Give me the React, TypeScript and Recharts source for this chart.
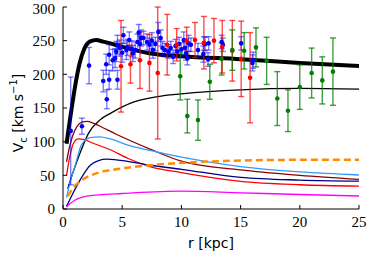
import React from "react";
import {
  ComposedChart,
  Line,
  Scatter,
  ErrorBar,
  XAxis,
  YAxis,
} from "recharts";

// r [kpc], V_c [km/s] pairs
const totalCurve = [
  [0.3, 97], [0.5, 122], [0.7, 146], [1.0, 180], [1.4, 216], [1.8, 238],
  [2.3, 249], [2.8, 251], [3.4, 248.5], [4.4, 244], [5.4, 239], [7.4, 231],
  [10, 227], [15, 222.5], [20, 217], [25, 212.5],
];
const haloCurve = [
  [0.4, 30], [0.7, 47], [1.0, 62], [1.44, 83], [2.14, 112], [3.1, 132],
  [4, 142], [6, 159], [8, 167], [10, 171], [15, 177], [20, 179], [25, 178],
];
const maroonCurve = [
  [0.3, 70], [0.5, 88], [0.8, 108], [1.2, 123], [1.6, 129], [2.0, 130],
  [2.5, 128], [3.0, 124], [4.5, 111], [7.35, 89], [10, 71], [15, 58],
  [20, 50], [25, 44],
];
const redCurve = [
  [0.3, 50], [0.6, 80], [0.9, 98], [1.3, 104], [1.8, 103], [2.5, 98],
  [4.0, 88], [5.5, 75], [7.35, 63], [10, 54], [15, 41], [20, 36], [25, 34],
];
const lightBlueCurve = [
  [0.3, 17], [0.6, 40], [1.0, 63], [1.58, 96], [2.3, 106], [3.1, 107],
  [4, 104], [5.5, 95], [7.35, 87], [10, 77], [15, 63], [20, 55], [25, 50.5],
];
const navyCurve = [
  [0.3, 4], [0.8, 22], [1.44, 43], [2.3, 65], [3, 72], [3.7, 74], [4.5, 73],
  [7.35, 65], [10, 59], [15, 47], [20, 43], [25, 41.5],
];
const orangeCurve = [
  [0.4, 19], [0.8, 30], [1.44, 41], [2.1, 48], [3, 54], [4.5, 59],
  [7.35, 65], [9.6, 68], [15, 72], [20, 73], [25, 73],
];
const magentaCurve = [
  [0.3, 3], [0.6, 8], [1.0, 13], [2, 19], [3, 21], [5, 23], [10, 26.5],
  [15, 24], [20, 21.5], [25, 19.3],
];

// r, V_c, error
const bluePoints = [
  [0.65, 116, 80], [1.6, 123, 12], [2.2, 213, 27], [3.4, 190, 16],
  [3.7, 163, 14], [3.65, 215, 15], [3.9, 192, 14], [3.9, 229, 15],
  [4.2, 221, 16], [4.4, 224, 14], [4.6, 192, 14], [4.5, 234, 15],
  [4.6, 244, 14], [4.8, 239, 12], [5.0, 232, 14], [5.1, 258, 12],
  [5.35, 236, 14], [5.45, 240, 12], [5.6, 251, 12], [5.8, 238, 12],
  [5.9, 231, 12], [6.1, 236, 12], [6.3, 248, 12], [6.4, 262, 12],
  [6.5, 245, 12], [6.6, 254, 12], [6.8, 254, 10], [7.1, 248, 12],
  [7.3, 244, 10], [7.5, 250, 12], [7.6, 236, 12], [7.8, 245, 10],
  [8.05, 263, 14], [8.25, 254, 12], [8.4, 239, 10], [8.6, 236, 10],
  [8.9, 234, 10], [9.1, 239, 10], [9.3, 226, 10], [9.5, 242, 10],
  [9.65, 234, 10], [9.8, 245, 10], [10.0, 237, 10], [10.2, 251, 12],
  [10.3, 239, 10], [10.4, 231, 10], [10.5, 224, 10], [10.6, 246, 12],
  [10.8, 244, 10], [11.4, 236, 10], [11.85, 230, 12], [11.9, 246, 10],
  [12.0, 245, 10], [12.25, 222, 10], [12.3, 246, 10], [13.4, 248, 10],
  [13.5, 244, 10], [15.05, 246, 10], [16.0, 217, 12], [16.05, 221, 12],
];
const redPoints = [
  [4.9, 212, 68], [5.7, 215, 28], [6.5, 221, 42], [7.3, 217, 42],
  [8.0, 202, 98], [8.8, 244, 45], [9.6, 244, 24], [10.45, 250, 20],
  [11.15, 251, 26], [11.9, 247, 39], [12.75, 250, 33], [13.45, 241, 39],
  [14.3, 235, 45], [15.05, 223, 56], [15.8, 195, 67],
];
const greenPoints = [
  [9.9, 197, 35], [10.5, 138, 25], [11.4, 132, 30], [12.4, 189, 26],
  [13.4, 223, 24], [14.3, 236, 30], [15.3, 235, 27], [16.3, 240, 29],
  [17.2, 220, 35], [18.1, 164, 40], [19.0, 146, 31], [20.0, 181, 33],
  [21.0, 202, 37], [21.9, 191, 35], [22.8, 204, 50],
];

const xTicks = [0, 5, 10, 15, 20, 25];
const yTicks = [0, 50, 100, 150, 200, 250, 300];

const toLine = (arr: number[][]) => arr.map(([r, v]) => ({ r, v }));
const toPts = (arr: number[][]) => arr.map(([r, v, e]) => ({ r, v, e }));

const dot = (color: string) => (p: any) =>
  <circle cx={p.cx} cy={p.cy} r={2.3} fill={color} />;

const tickStyle = { fontFamily: "Liberation Serif", fontSize: 15, fill: "#000" };

const xTick = (p: any) => (
  <text x={p.x} y={p.y} dy="0.71em" textAnchor="middle" style={tickStyle}>
    {String(p.payload.value)}
  </text>
);
const yTick = (p: any) => (
  <text x={p.x} y={p.y} dy="0.355em" textAnchor="end" style={tickStyle}>
    {String(p.payload.value)}
  </text>
);
const noTick = () => <g />;

export default function App() {
  const curve = (data: number[][], color: string, width: number, dash?: string) => (
    <Line
      data={toLine(data)}
      dataKey="v"
      type="monotone"
      stroke={color}
      strokeWidth={width}
      strokeDasharray={dash}
      dot={false}
      activeDot={false}
      isAnimationActive={false}
    />
  );

  return (
    <div style={{ position: "absolute", left: 0, top: 0, width: 374, height: 262, background: "#fff" }}>
      <ComposedChart
        width={374}
        height={262}
        margin={{ top: 7, right: 15, left: 0, bottom: 0 }}
      >
        <XAxis
          xAxisId="b"
          dataKey="r"
          type="number"
          domain={[0, 25]}
          ticks={xTicks}
          allowDataOverflow
          height={53}
          stroke="#000"
          tickSize={-4}
          tickMargin={11}
          tick={xTick}
        />
        <XAxis
          xAxisId="t"
          orientation="top"
          dataKey="r"
          type="number"
          domain={[0, 25]}
          ticks={xTicks}
          height={0}
          stroke="#000"
          tickSize={-4}
          tick={noTick}
        />
        <YAxis
          yAxisId="l"
          dataKey="v"
          type="number"
          domain={[0, 300]}
          ticks={yTicks}
          allowDataOverflow
          width={63}
          stroke="#000"
          tickSize={-4}
          tickMargin={12}
          tick={yTick}
        />
        <YAxis
          yAxisId="r"
          orientation="right"
          dataKey="v"
          type="number"
          domain={[0, 300]}
          ticks={yTicks}
          width={0}
          stroke="#000"
          tickSize={-4}
          tick={noTick}
        />
        {React.Children.map(
          [
            curve(totalCurve, "#000", 4),
            curve(haloCurve, "#000", 1.3),
            curve(maroonCurve, "#8b0000", 1.3),
            curve(redCurve, "#ff0000", 1.3),
            curve(lightBlueCurve, "#3399ff", 1.3),
            curve(navyCurve, "#00008b", 1.3),
            curve(orangeCurve, "#ff8c00", 2.5, "7 4"),
            curve(magentaCurve, "#ff00ff", 1.3),
          ],
          (el) => React.cloneElement(el, { xAxisId: "b", yAxisId: "l" })
        )}
        <Scatter data={toPts(bluePoints)} xAxisId="b" yAxisId="l" shape={dot("#0000ff")} isAnimationActive={false}>
          <ErrorBar dataKey="e" direction="y" width={3} stroke="#0000ff" strokeOpacity={0.5} strokeWidth={1.4} isAnimationActive={false} />
        </Scatter>
        <Scatter data={toPts(redPoints)} xAxisId="b" yAxisId="l" shape={dot("#ff0000")} isAnimationActive={false}>
          <ErrorBar dataKey="e" direction="y" width={3} stroke="#ff0000" strokeOpacity={0.7} strokeWidth={1.4} isAnimationActive={false} />
        </Scatter>
        <Scatter data={toPts(greenPoints)} xAxisId="b" yAxisId="l" shape={dot("#008000")} isAnimationActive={false}>
          <ErrorBar dataKey="e" direction="y" width={3} stroke="#008000" strokeOpacity={0.75} strokeWidth={1.4} isAnimationActive={false} />
        </Scatter>
      </ComposedChart>
      <svg width={374} height={262} style={{ position: "absolute", left: 0, top: 0, pointerEvents: "none" }}>
        <text x={211} y={248} textAnchor="middle" fontFamily="DejaVu Sans" fontSize={14}>
          r [kpc]
        </text>
        <text transform="translate(23,113) rotate(-90)" textAnchor="middle" fontFamily="DejaVu Sans" fontSize={14}>
          V<tspan fontSize={10} dy={4}>c</tspan>
          <tspan dy={-4}> [km s</tspan>
          <tspan fontSize={10} dy={-6}>−1</tspan>
          <tspan dy={6}>]</tspan>
        </text>
      </svg>
    </div>
  );
}
